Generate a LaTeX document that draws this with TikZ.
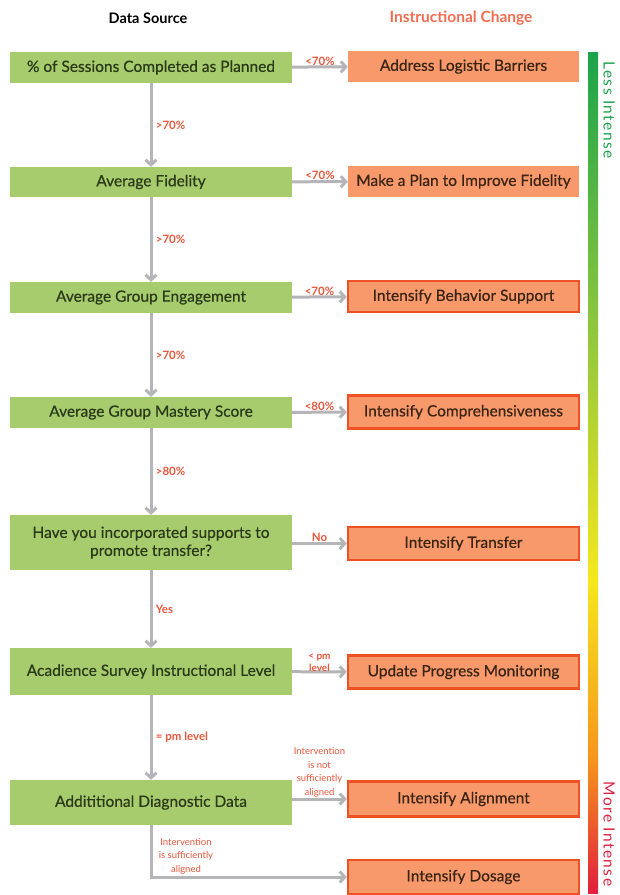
\documentclass[tikz,border=0pt]{standalone}
\usepackage{fontspec}
\setmainfont{Lato}
\newfontfamily\boxfont{Lato}[FakeBold=0.5]
\newfontfamily\barfont{Lato}[LetterSpace=9]
\usetikzlibrary{arrows.meta}
\definecolor{srcgreen}{HTML}{A7CC6E}
\definecolor{srctext}{HTML}{2A3A18}
\definecolor{chgfill}{HTML}{F8996B}
\definecolor{chgline}{HTML}{EF5127}
\definecolor{chgtext}{HTML}{3A2414}
\definecolor{flowgray}{HTML}{B4B4B9}
\definecolor{lblred}{HTML}{E8563B}
\definecolor{headred}{HTML}{F26D4F}
\definecolor{barA}{HTML}{1AA34B}
\definecolor{barB}{HTML}{8FC73E}
\definecolor{barC}{HTML}{F5E71E}
\definecolor{barD}{HTML}{F7941D}
\definecolor{barE}{HTML}{E01F3D}
\begin{document}
\begin{tikzpicture}[x=1pt,y=-1pt,
  src/.style={fill=srcgreen, text=srctext, minimum width=282pt, inner sep=0pt,
    align=center, font=\boxfont\fontsize{15.5}{18}\selectfont},
  chg/.style={fill=chgfill, text=chgtext, minimum width=231pt, inner sep=0pt,
    font=\boxfont\fontsize{15.5}{18}\selectfont},
  hot/.style={chg, draw=chgline, line width=2.5pt},
  flow/.style={draw=flowgray, line width=3pt, -{Straight Barb[length=5pt,width=11pt]}},
  lbl/.style={text=lblred, font=\bfseries\fontsize{11.5}{12}\selectfont},
  tinylbl/.style={text=lblred, align=center, font=\fontsize{9.5}{13.5}\selectfont}]
\useasboundingbox (0,0) rectangle (620,895);

\node[font=\bfseries\fontsize{14.5}{16}\selectfont] (hs) at (148,18) {Data Source};
\node[font=\bfseries\fontsize{15.5}{16}\selectfont, text=headred] (hc) at (461,18) {Instructional Change};

\node[src, minimum height=31pt] (1a) at (151,67.5) {\% of Sessions Completed as Planned};
\node[src, minimum height=30pt] (2a) at (151,182) {Average Fidelity};
\node[src, minimum height=31pt] (3a) at (151,297.5) {Average Group Engagement};
\node[src, minimum height=31pt] (4a) at (151,412.5) {Average Group Mastery Score};
\node[src, minimum height=55pt] (5a) at (151,542.5) {Have you incorporated supports to\\promote transfer?};
\node[src, minimum height=47pt] (6a) at (151,671.5) {Acadience Survey Instructional Level};
\node[src, minimum height=45pt] (7a) at (151,802.5) {Addititional Diagnostic Data};

\node[chg, minimum height=31pt] (1b) at (463.5,66.5) {Address Logistic Barriers};
\node[chg, minimum height=31pt] (2b) at (463.5,181.5) {Make a Plan to Improve Fidelity};
\node[hot, minimum height=31pt] (3b) at (463.5,296.5) {Intensify Behavior Support};
\node[hot, minimum height=33pt] (4b) at (463.5,412) {Intensify Comprehensiveness};
\node[hot, minimum height=33pt] (5b) at (463.5,543.5) {Intensify Transfer};
\node[hot, minimum height=33pt] (6b) at (463.5,672) {Update Progress Monitoring};
\node[hot, minimum height=35pt] (7b) at (463.5,799) {Intensify Alignment};
\node[hot, minimum height=34pt] (8b) at (463.5,877) {Intensify Dosage};

\path[flow] (1a) -- node[lbl, right] {>70\%} (2a);
\path[flow] (2a) -- node[lbl, right] {>70\%} (3a);
\path[flow] (3a) -- node[lbl, right] {>70\%} (4a);
\path[flow] (4a) -- node[lbl, right] {>80\%} (5a);
\path[flow] (5a) -- node[lbl, right] {Yes} (6a);
\path[flow] (6a) -- node[lbl, right] {= pm level} (7a);

\path[flow] (1a) -- node[lbl, above=-3pt] {<70\%} (1b);
\path[flow] (2a) -- node[lbl, above=-3pt] {<70\%} (2b);
\path[flow] (3a) -- node[lbl, above=-3pt] {<70\%} (3b);
\path[flow] (4a) -- node[lbl, above=-3pt] {<80\%} (4b);
\path[flow] (5a.east |- 5b) -- node[lbl, above=-3pt] {No} (5b);
\path[flow] (6a) -- node[lbl, above=-5pt, align=center, font=\bfseries\fontsize{10}{12}\selectfont] {< pm\\level} (6b);
\path[flow] (7a.east |- 7b) -- node[tinylbl, above=-3pt] {Intervention\\is not\\sufficiently\\aligned} (7b);
\path[flow] (7a.south) |- node[tinylbl, above right, pos=0.5, xshift=3pt, yshift=-2pt] {Intervention\\is sufficiently\\aligned} (8b);

% intensity bar
\shade[top color=barA, bottom color=barB] (588,52) rectangle (598,330);
\shade[top color=barB, bottom color=barC] (588,329.5) rectangle (598,580);
\shade[top color=barC, bottom color=barD] (588,579.5) rectangle (598,760);
\shade[top color=barD, bottom color=barE] (588,759.5) rectangle (598,893);
\node[rotate=-90, text=barA, font=\barfont\fontsize{15.5}{16}\selectfont] (li) at (609,110) {Less Intense};
\node[rotate=-90, text=barE, font=\barfont\fontsize{15.5}{16}\selectfont] (mi) at (609,834) {More Intense};
\end{tikzpicture}
\end{document}
